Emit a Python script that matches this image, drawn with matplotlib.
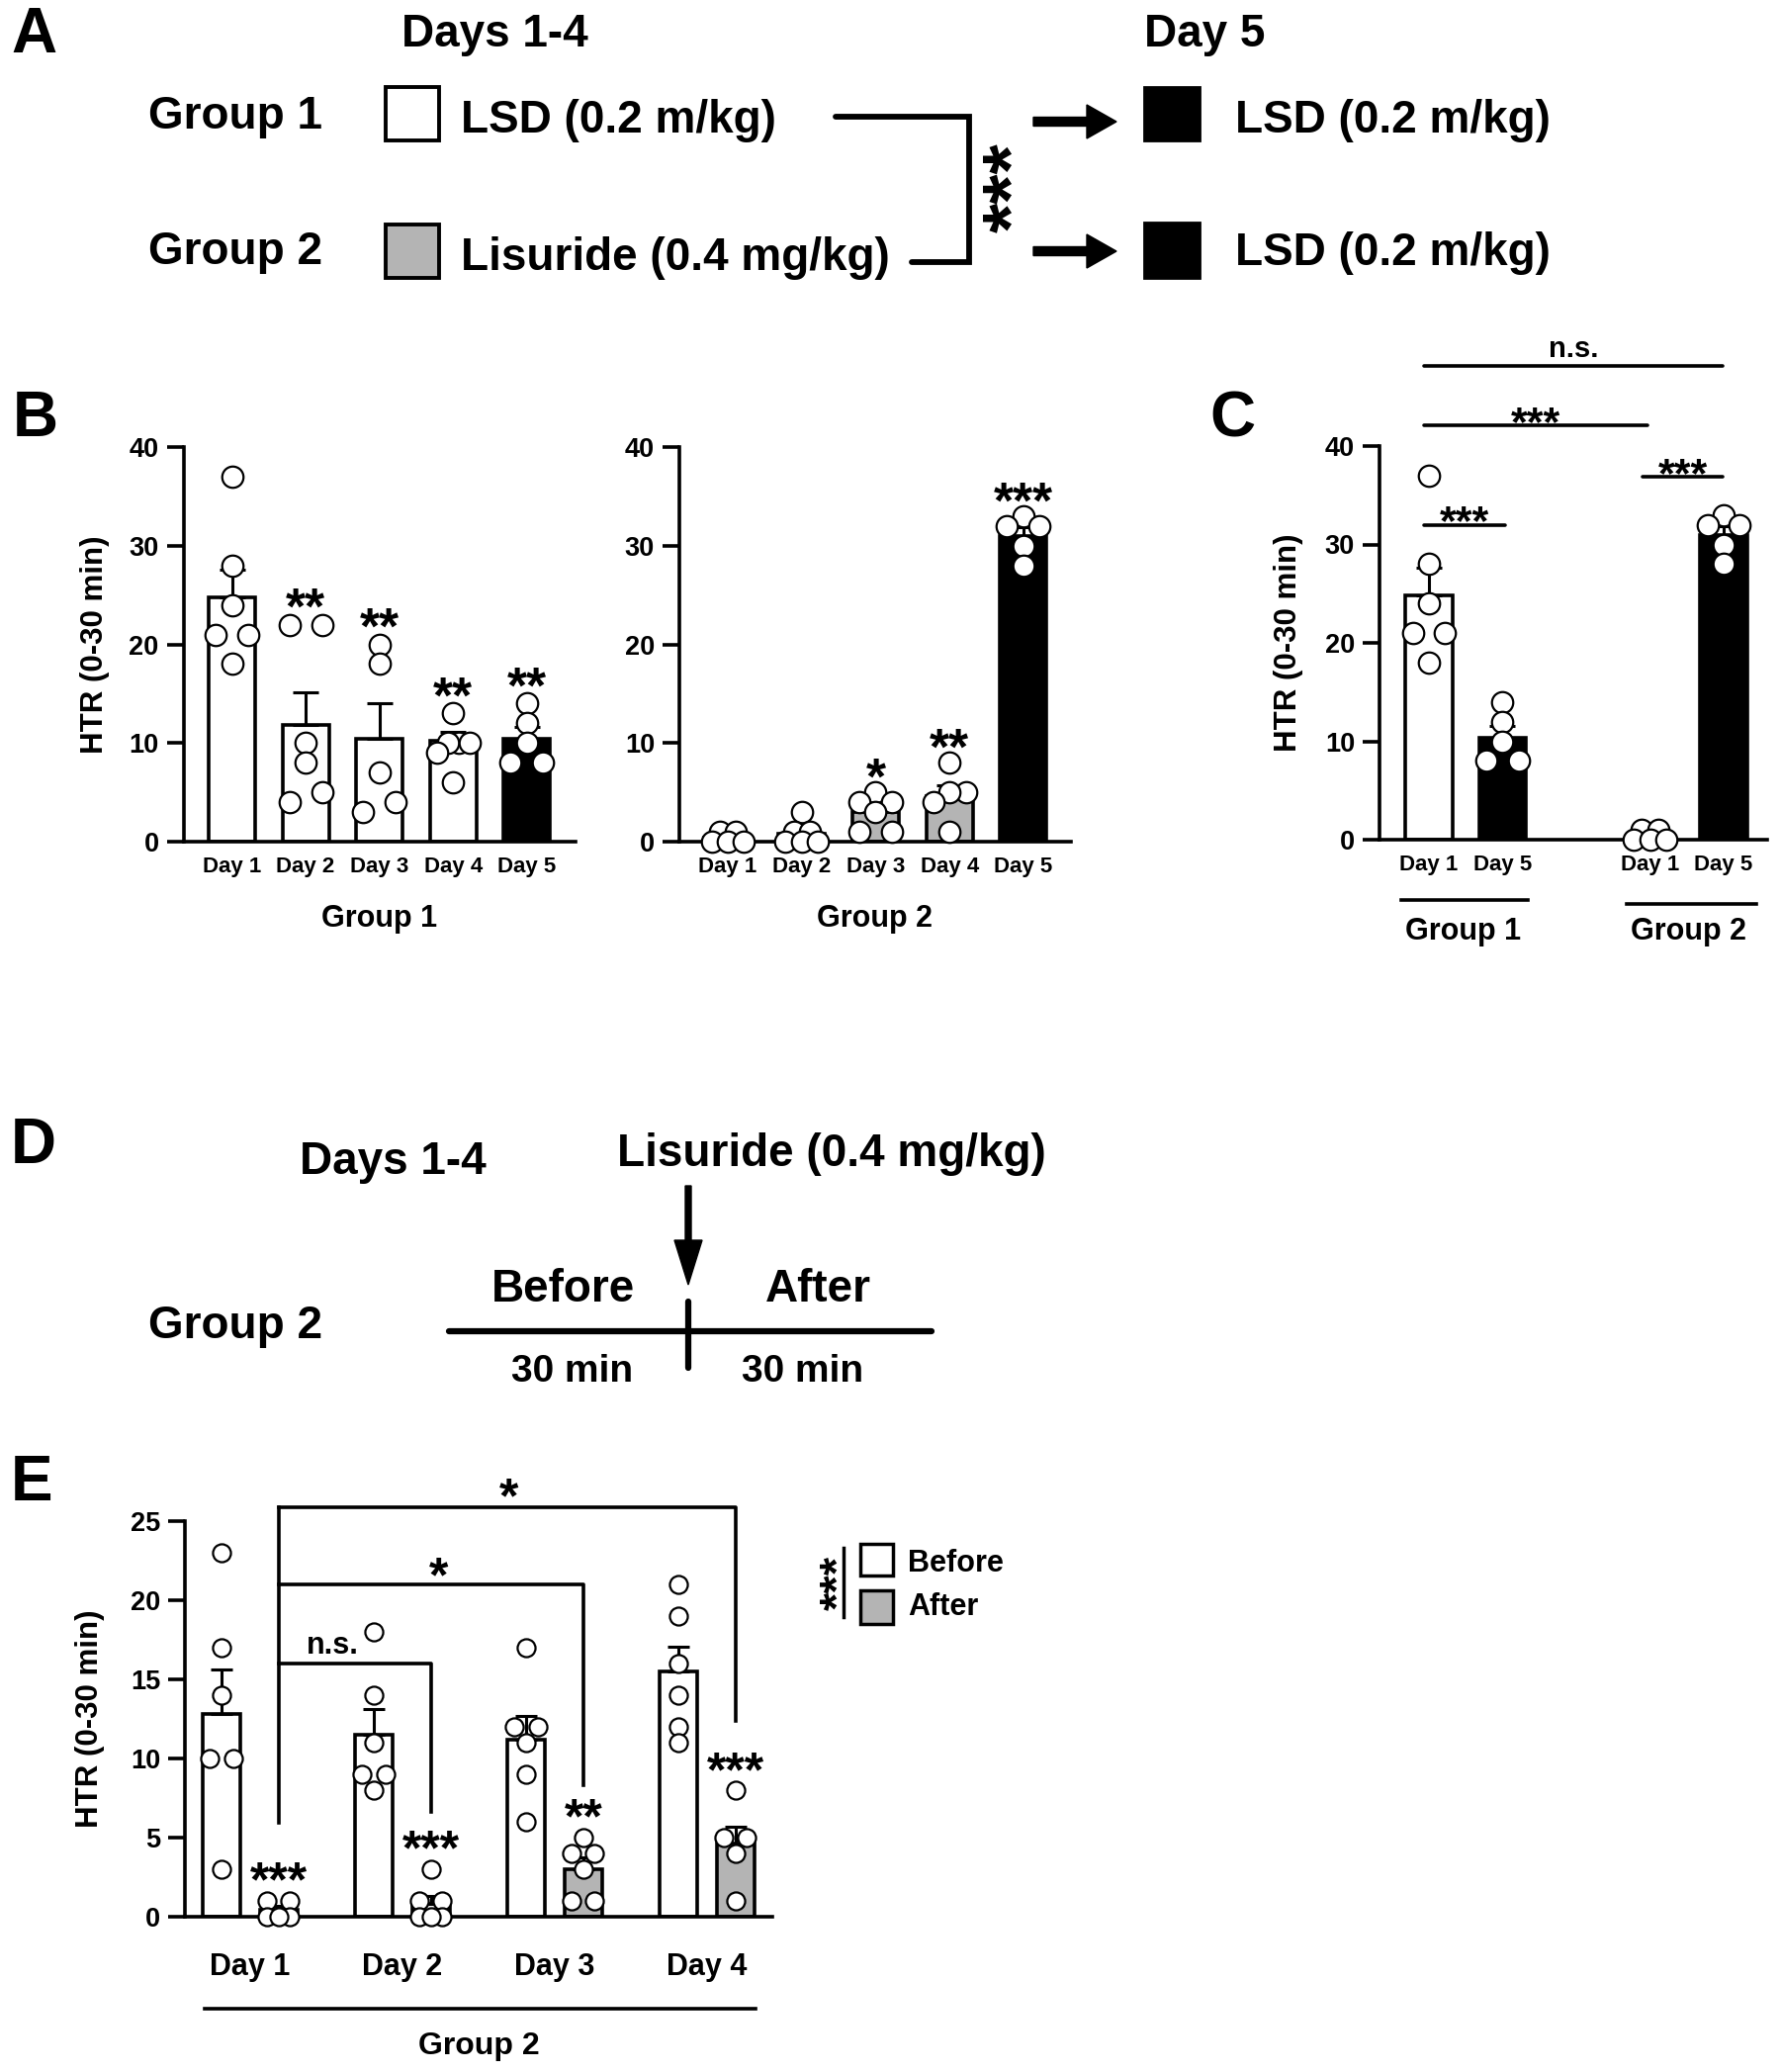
import numpy as np
import matplotlib
matplotlib.use('Agg')
import matplotlib.pyplot as plt
import matplotlib.patches as patches
from matplotlib.transforms import blended_transform_factory

plt.rcParams['font.family'] = ['Liberation Sans', 'DejaVu Sans']
plt.rcParams['font.weight'] = 'bold'
plt.rcParams['axes.labelweight'] = 'bold'
plt.rcParams['axes.linewidth'] = 2.6

W, H = 1800, 2095
GRAY = '#b4b4b4'
LW = 2.6

# ---------------- data ----------------
days = ['Day 1', 'Day 2', 'Day 3', 'Day 4', 'Day 5']

# Group 1: LSD days 1-4, LSD day 5
g1_points = [[37, 28, 24, 21, 21, 18], [22, 22, 10, 8, 5, 4], [20, 18, 7, 4, 3],
             [13, 10, 10, 10, 9, 6], [14, 12, 10, 8, 8]]
g1_mean = [24.8, 11.8, 10.4, 10.2, 10.4]
g1_sem = [2.8, 3.3, 3.6, 0.9, 1.2]
g1_stars = ['', '**', '**', '**', '**']

# Group 2: lisuride days 1-4, LSD day 5
g2_points = [[1, 1, 0, 0, 0], [3, 1, 1, 0, 0, 0], [5, 4, 4, 3, 1, 1],
             [8, 5, 5, 4, 1], [33, 32, 32, 30, 28]]
g2_mean = [0.4, 0.8, 3.0, 4.6, 31.0]
g2_sem = [0.25, 0.5, 0.7, 1.1, 0.9]
g2_stars = ['', '', '*', '**', '***']

# panel E: before / after lisuride
e_days = ['Day 1', 'Day 2', 'Day 3', 'Day 4']
before_points = [[23, 17, 14, 10, 10, 3], [18, 14, 11, 9, 9, 8],
                 [17, 12, 12, 11, 9, 6], [21, 19, 16, 14, 12, 11]]
before_mean = [12.8, 11.5, 11.2, 15.5]
before_sem = [2.8, 1.6, 1.5, 1.6]
after_points = [[1, 1, 0, 0, 0], [3, 1, 1, 0, 0, 0], [5, 4, 4, 3, 1, 1], [8, 5, 5, 4, 1]]
after_mean = [0.4, 0.8, 3.0, 4.6]
after_sem = [0.25, 0.5, 0.7, 1.1]
after_stars = ['***', '***', '**', '***']


def rect(x0, y0, x1, y1):
    # pixel box (top-left origin) -> figure fraction
    return [x0 / W, 1 - y1 / H, (x1 - x0) / W, (y1 - y0) / H]


def swarm_offsets(vals, half, thr):
    vals = np.asarray(vals, float)
    order = np.argsort(-vals, kind='stable')
    rows = []
    for i in order:
        if rows and abs(vals[rows[-1][0]] - vals[i]) < thr:
            rows[-1].append(i)
        else:
            rows.append([i])
    offs = np.zeros(len(vals))
    for r in rows:
        n = len(r)
        if n < 2:
            continue
        slots = np.linspace(-half, half, n)
        asc = sorted(r, key=lambda k: vals[k])
        seq = list(range(0, n, 2)) + list(range(1, n, 2))
        for k, s in zip(asc, seq):
            offs[k] = slots[s]
    return offs


def stars(ax, x, y, s, size, transform=None):
    kw = {} if transform is None else {'xycoords': transform}
    ax.annotate(s, (x, y), xytext=(0, -0.56 * size), textcoords='offset points',
                ha='center', va='baseline', fontsize=size, fontweight='bold',
                annotation_clip=False, **kw)


def style_axes(ax, ymax, step):
    ax.spines['top'].set_visible(False)
    ax.spines['right'].set_visible(False)
    ax.set_ylim(0, ymax)
    ax.set_yticks(np.arange(0, ymax + 1, step))
    ax.tick_params(axis='y', length=12, width=LW, labelsize=19.5, pad=6)
    ax.tick_params(axis='x', length=0)


def draw_bars(ax, pos, means, sems, pts, colors, width, half, thr, msize, cap):
    ax.bar(pos, means, width, color=colors, edgecolor='black', linewidth=LW, zorder=2)
    ax.errorbar(pos, means, yerr=[np.zeros(len(sems)), sems], fmt='none', ecolor='black',
                elinewidth=2.2, capsize=cap, capthick=2.2, zorder=3)
    for p, v in zip(pos, pts):
        off = swarm_offsets(v, half, thr)
        ax.scatter(p + off, v, s=msize, facecolor='white', edgecolor='black',
                   linewidth=1.6, zorder=5, clip_on=False)


fig = plt.figure(figsize=(W / 100, H / 100), dpi=100)

# overlay for schematics (pixel coordinates)
ax0 = fig.add_axes([0, 0, 1, 1], zorder=-1)
ax0.set_xlim(0, W)
ax0.set_ylim(H, 0)
ax0.axis('off')


def ptext(x, y, s, size, ha='left'):
    ax0.text(x, y, s, fontsize=size, ha=ha, va='baseline', fontweight='bold')


for letter, (x, y) in zip('ABCDE', [(11, 53), (13, 441), (1223, 441), (11, 1176), (11, 1517)]):
    ptext(x, y, letter, 46)

# ---------------- panel A ----------------
ptext(406, 47, 'Days 1-4', 33)
ptext(1157, 47, 'Day 5', 33)
ptext(150, 130, 'Group 1', 33)
ptext(150, 267, 'Group 2', 33)
ptext(466, 134, 'LSD (0.2 m/kg)', 33)
ptext(466, 273, 'Lisuride (0.4 mg/kg)', 33)
ptext(1249, 134, 'LSD (0.2 m/kg)', 33)
ptext(1249, 268, 'LSD (0.2 m/kg)', 33)
ax0.add_patch(patches.Rectangle((390, 88), 54, 54, facecolor='white', edgecolor='black', lw=2.8))
ax0.add_patch(patches.Rectangle((390, 227), 54, 54, facecolor=GRAY, edgecolor='black', lw=2.8))
ax0.add_patch(patches.Rectangle((1157, 88), 56, 54, facecolor='black', edgecolor='black', lw=2))
ax0.add_patch(patches.Rectangle((1157, 225), 56, 56, facecolor='black', edgecolor='black', lw=2))
ax0.plot([845, 980, 980, 922], [118, 118, 265, 265], color='black', lw=4.2,
         solid_capstyle='round', solid_joinstyle='miter')
ax0.annotate('***', (1005, 190), xytext=(0.56 * 56, 0), textcoords='offset points',
             rotation=90, rotation_mode='anchor', ha='center', va='baseline',
             fontsize=56, fontweight='bold')
for yy in (123, 254):
    ax0.add_patch(patches.FancyArrow(1045, yy, 84, 0, width=9, head_width=34, head_length=30,
                                     length_includes_head=True, color='black'))

# ---------------- panel B ----------------
ax_b1 = fig.add_axes(rect(185.6, 452, 581.7, 851))
style_axes(ax_b1, 40, 10)
ax_b1.set_xlim(-0.657, 4.657)
pos5 = np.arange(5)
draw_bars(ax_b1, pos5, g1_mean, g1_sem, g1_points,
          ['white'] * 4 + ['black'], 0.63, 0.22, 1.01, 240, 9.4)
ax_b1.set_xticks(pos5, days, fontsize=16)
ax_b1.tick_params(axis='x', pad=11)
for p, s, m, pts in zip(pos5, g1_stars, g1_mean, g1_points):
    if s:
        stars(ax_b1, p, max(pts) + 3.0, s, 37)
ax_b1.set_ylabel('HTR (0-30 min)', fontsize=22.5)
ax_b1.yaxis.label.set_va('center')
ax_b1.yaxis.set_label_coords(-0.226, 0.5)
ax_b1.set_xlabel('Group 1', fontsize=22)
ax_b1.xaxis.label.set_va('center')
ax_b1.xaxis.set_label_coords(0.5, -0.195)

ax_b2 = fig.add_axes(rect(687, 452, 1083, 851))
style_axes(ax_b2, 40, 10)
ax_b2.set_xlim(-0.656, 4.644)
draw_bars(ax_b2, pos5, g2_mean, g2_sem, g2_points,
          [GRAY] * 4 + ['black'], 0.63, 0.22, 1.01, 240, 9.4)
ax_b2.set_xticks(pos5, days, fontsize=16)
ax_b2.tick_params(axis='x', pad=11)
for p, s, m, pts in zip(pos5, g2_stars, g2_mean, g2_points):
    if s:
        stars(ax_b2, p, max(pts) + 2.7, s, 37)
ax_b2.set_xlabel('Group 2', fontsize=22)
ax_b2.xaxis.label.set_va('center')
ax_b2.xaxis.set_label_coords(0.5, -0.195)

# ---------------- panel C ----------------
ax_c = fig.add_axes(rect(1395, 451, 1787, 849))
style_axes(ax_c, 40, 10)
ax_c.set_xlim(-0.67, 4.59)
pos_c = np.array([0, 1, 3, 4])
draw_bars(ax_c, pos_c, [g1_mean[0], g1_mean[4], g2_mean[0], g2_mean[4]],
          [g1_sem[0], g1_sem[4], g2_sem[0], g2_sem[4]],
          [g1_points[0], g1_points[4], g2_points[0], g2_points[4]],
          ['white', 'black', GRAY, 'black'], 0.64, 0.22, 1.01, 240, 9.4)
ax_c.set_xticks(pos_c, ['Day 1', 'Day 5', 'Day 1', 'Day 5'], fontsize=16)
ax_c.tick_params(axis='x', pad=11)
ax_c.set_ylabel('HTR (0-30 min)', fontsize=22.5)
ax_c.yaxis.label.set_va('center')
ax_c.yaxis.set_label_coords(-0.235, 0.5)
for x0, x1, y, s, ty in [(-0.06, 1.03, 32.0, '***', 33.5), (2.90, 3.99, 36.9, '***', 38.3),
                         (-0.06, 2.96, 42.1, '***', 43.5)]:
    ax_c.plot([x0, x1], [y, y], color='black', lw=LW, clip_on=False, solid_capstyle='round')
    stars(ax_c, (x0 + x1) / 2, ty, s, 31)
ax_c.plot([-0.06, 3.99], [48.1, 48.1], color='black', lw=LW, clip_on=False, solid_capstyle='round')
ax_c.text(1.97, 49.0, 'n.s.', fontsize=21, ha='center', va='baseline')
tr_c = blended_transform_factory(ax_c.transData, ax_c.transAxes)
for x0, x1, yy, lab, lx in [(-0.375, 1.34, -0.153, 'Group 1', 0.47), (2.69, 4.44, -0.163, 'Group 2', 3.52)]:
    ax_c.plot([x0, x1], [yy, yy], color='black', lw=LW, transform=tr_c, clip_on=False)
    ax_c.text(lx, -0.234, lab, fontsize=22, ha='center', va='center', transform=tr_c)

# ---------------- panel D ----------------
ptext(397, 1187, 'Days 1-4', 33, ha='center')
ptext(841, 1179, 'Lisuride (0.4 mg/kg)', 33, ha='center')
ax0.add_patch(patches.FancyArrow(696, 1199, 0, 100, width=6, head_width=28, head_length=45,
                                 length_includes_head=True, color='black'))
ptext(569, 1316, 'Before', 33, ha='center')
ptext(827, 1316, 'After', 33, ha='center')
ptext(150, 1353, 'Group 2', 33)
ax0.plot([454, 942], [1346, 1346], color='black', lw=4.5, solid_capstyle='round')
ax0.plot([696, 696], [1316, 1383], color='black', lw=4.5, solid_capstyle='round')
ptext(579, 1397, '30 min', 28, ha='center')
ptext(812, 1397, '30 min', 28, ha='center')

# ---------------- panel E ----------------
ax_e = fig.add_axes(rect(187, 1538.4, 780.5, 1937.5))
style_axes(ax_e, 25, 5)
ax_e.set_xlim(-0.428, 3.426)
pos4 = np.arange(4)
d = 0.188
draw_bars(ax_e, pos4 - d, before_mean, before_sem, before_points, ['white'] * 4,
          0.245, 0.075, 0.8, 170, 7.8)
draw_bars(ax_e, pos4 + d, after_mean, after_sem, after_points, ['white', 'white', GRAY, GRAY],
          0.245, 0.075, 0.8, 170, 7.8)
for p, s, pts in zip(pos4 + d, after_stars, after_points):
    stars(ax_e, p, max(pts) + 2.0, s, 36)
ax_e.set_xticks(pos4, e_days, fontsize=22)
ax_e.tick_params(axis='x', pad=26)
ax_e.set_ylabel('HTR (0-30 min)', fontsize=22.5)
ax_e.yaxis.label.set_va('center')
ax_e.yaxis.set_label_coords(-0.162, 0.5)
# comparison brackets vs day 1 after
ax_e.plot([d, d], [5.9, 25.9], color='black', lw=LW, clip_on=False)
for xr, ytop, ybot, s, tx, ty, size in [(1 + d, 16.0, 6.6, 'n.s.', 0.54, 16.6, 22),
                                         (2 + d, 21.0, 8.3, '*', 1.24, 22.3, 36),
                                         (3 + d, 25.9, 12.4, '*', 1.70, 27.3, 36)]:
    ax_e.plot([d, xr, xr], [ytop, ytop, ybot], color='black', lw=LW, clip_on=False)
    if s == 'n.s.':
        ax_e.text(tx, ty, s, fontsize=size, ha='center', va='baseline')
    else:
        stars(ax_e, tx, ty, s, size)
tr_e = blended_transform_factory(ax_e.transData, ax_e.transAxes)
ax_e.plot([-0.298, 3.319], [-0.234, -0.234], color='black', lw=LW, transform=tr_e, clip_on=False)
ax_e.text(1.5, -0.33, 'Group 2', fontsize=23, ha='center', va='center', transform=tr_e)

# legend for panel E
ax0.add_patch(patches.Rectangle((870, 1561), 33, 32, facecolor='white', edgecolor='black', lw=2.5))
ax0.add_patch(patches.Rectangle((870, 1608), 33, 34, facecolor=GRAY, edgecolor='black', lw=2.5))
ptext(918, 1589, 'Before', 22)
ptext(918, 1633, 'After', 22)
ax0.plot([853, 853], [1565, 1635], color='black', lw=2.5)
ax0.annotate('***', (835, 1600), xytext=(0.56 * 34, 0), textcoords='offset points',
             rotation=90, rotation_mode='anchor', ha='center', va='baseline',
             fontsize=34, fontweight='bold')

fig.savefig('out.png', dpi=100)
